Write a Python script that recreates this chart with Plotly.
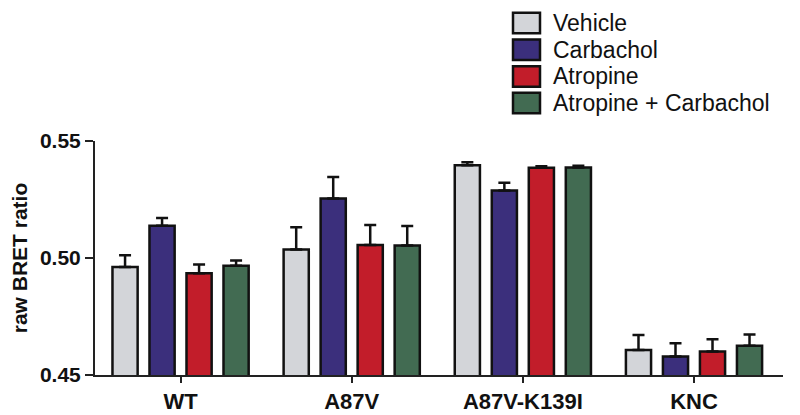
import plotly.graph_objects as go

categories = ["WT", "A87V", "A87V-K139I", "KNC"]
series_names = ["Vehicle", "Carbachol", "Atropine", "Atropine + Carbachol"]
vehicle = [0.4962, 0.5036, 0.5396, 0.4607]
carbachol = [0.5138, 0.5254, 0.5288, 0.4579]
atropine = [0.4935, 0.5056, 0.5386, 0.4600]
atr_carb = [0.4967, 0.5053, 0.5387, 0.4625]
vehicle_err = [0.0050, 0.0095, 0.0013, 0.0064]
carbachol_err = [0.0033, 0.0092, 0.0034, 0.0057]
atropine_err = [0.0037, 0.0085, 0.0006, 0.0053]
atr_carb_err = [0.0022, 0.0084, 0.0007, 0.0048]
y_ticks = [0.45, 0.50, 0.55]

colors = ["#d3d5d9", "#3b2f7c", "#c21d2a", "#426b52"]
values = [vehicle, carbachol, atropine, atr_carb]
errors = [vehicle_err, carbachol_err, atropine_err, atr_carb_err]

FONT = "Liberation Sans, Arial, sans-serif"

# figure geometry (page body adds an 8px offset)
W, H = 792, 407
ML, MR, MT, MB = 87, 17, 133, 40
PW, PH = W - ML - MR, H - MT - MB


def px_x(x):
    return (x - ML) / PW


def px_y(y):
    return (H - MB - y) / PH


fig = go.Figure()
for name, vals, errs, col in zip(series_names, values, errors, colors):
    fig.add_trace(go.Bar(
        name=name, x=categories, y=vals, base=0,
        marker=dict(color=col, line=dict(color="#111111", width=2.5)),
        error_y=dict(type="data", symmetric=False, array=errs,
                     arrayminus=[0] * len(errs), color="#111111",
                     thickness=2.5, width=6),
        showlegend=False,
    ))

# legend drawn as swatches + labels (upper right, above plot)
LEG_X, LEG_Y0, LEG_PITCH, BOX_W, BOX_H = 505, 15, 26.7, 27, 20.5
for i, (name, col) in enumerate(zip(series_names, colors)):
    cy = LEG_Y0 + i * LEG_PITCH
    fig.add_shape(type="rect", xref="paper", yref="paper",
                  x0=px_x(LEG_X), x1=px_x(LEG_X + BOX_W),
                  y0=px_y(cy - BOX_H / 2), y1=px_y(cy + BOX_H / 2),
                  fillcolor=col, line=dict(color="#111111", width=2.5))
    fig.add_annotation(xref="paper", yref="paper", x=px_x(LEG_X + 38),
                       y=px_y(cy), xanchor="left", yanchor="middle",
                       text=name, showarrow=False,
                       font=dict(size=23, family=FONT, color="#111111"))

fig.update_layout(
    width=W, height=H,
    margin=dict(l=ML, r=MR, t=MT, b=MB, autoexpand=False),
    paper_bgcolor="white", plot_bgcolor="white",
    barmode="group", bargap=0.135, bargroupgap=0.32,
    font=dict(family=FONT, color="#111111"),
    showlegend=False,
    xaxis=dict(
        showline=True, linecolor="#222222", linewidth=2,
        ticks="outside", ticklen=6, tickwidth=1.5, tickcolor="#222222",
        tickfont=dict(size=22, family=FONT, weight="bold", color="#111111"),
        range=[-0.5, 3.52], showgrid=False, zeroline=False,
    ),
    yaxis=dict(
        range=[0.45, 0.55], tickvals=y_ticks, tickformat=".2f",
        showline=True, linecolor="#222222", linewidth=2,
        ticks="outside", ticklen=8, tickwidth=2, tickcolor="#222222",
        tickfont=dict(size=21, family=FONT, weight="bold", color="#111111"),
        title=dict(text="raw BRET ratio", standoff=10,
                   font=dict(size=21, family=FONT, weight="bold", color="#111111")),
        showgrid=False, zeroline=False,
    ),
)

fig.write_html("out.html")
